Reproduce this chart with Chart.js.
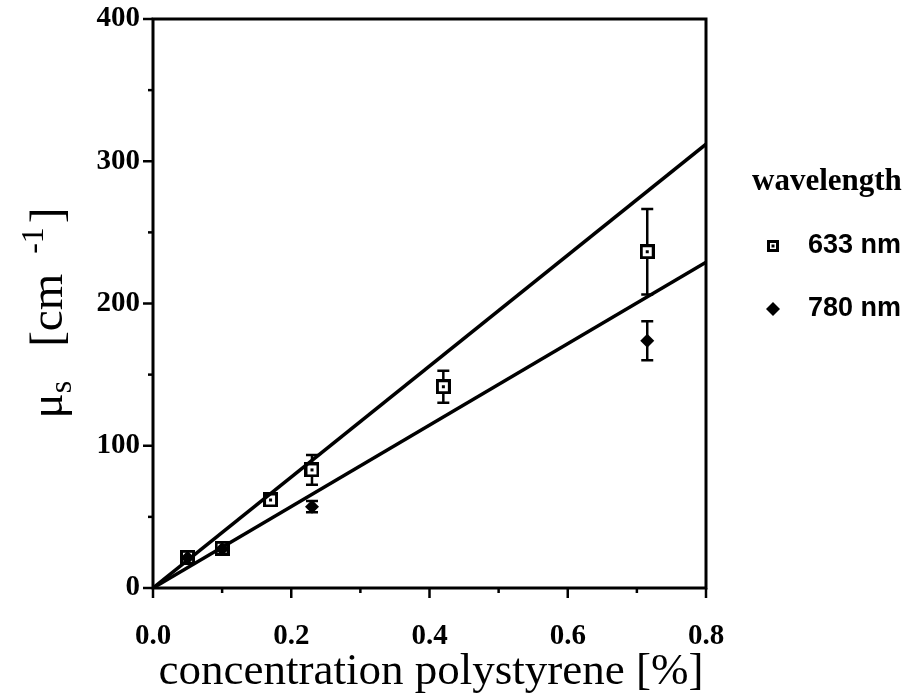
<!DOCTYPE html>
<html>
<head>
<meta charset="utf-8">
<script src="https://cdn.jsdelivr.net/npm/chart.js@4"></script>
<style>
  html, body { margin: 0; padding: 0; background: #fff; }
  #wrap { width: 912px; height: 697px; position: relative; }
</style>
</head>
<body>
<div id="wrap"><canvas id="graf" width="912" height="697"></canvas></div>
<script>
// ---------------------------
// DATA
// ---------------------------
const conc633 = [0.05, 0.10, 0.17, 0.23, 0.42, 0.715];
const mus633  = [21.6, 27.9, 61.9, 83.0, 141.5, 236.4];
const err633  = [0, 0, 0, 10.5, 11.2, 30];

const conc780 = [0.05, 0.10, 0.23, 0.715];
const mus780  = [21.2, 27.5, 57.2, 173.8];
const err780  = [0, 0, 4, 13.7];

// fitted lines through origin
const fitX   = [0, 0.8];
const fit633 = [0, 312];
const fit780 = [0, 229];

const xTicks = [0, 0.2, 0.4, 0.6, 0.8];
const yTicks = [0, 100, 200, 300, 400];
const legendLabels = ["633 nm", "780 nm"];

// ---------------------------
// open square with dot marker
// ---------------------------
function squareDot(side, lw) {
  const c = document.createElement("canvas");
  c.width = side; c.height = side;
  const g = c.getContext("2d");
  g.fillStyle = "#fff";
  g.fillRect(0, 0, side, side);
  g.strokeStyle = "#000";
  g.lineWidth = lw;
  g.strokeRect(lw / 2, lw / 2, side - lw, side - lw);
  g.fillStyle = "#000";
  g.fillRect(side / 2 - 1.5, side / 2 - 1.5, 3, 3);
  return c;
}
const marker633 = squareDot(15, 3);
const legend633 = squareDot(12, 3);

const pts = (xs, ys) => xs.map((x, i) => ({ x, y: ys[i] }));

// ---------------------------
// plugin: frame, ticks, error bars, titles, legend
// ---------------------------
const extras = {
  id: "extras",
  beforeDatasetsDraw(chart) {
    const { ctx, chartArea: a, scales: { x, y } } = chart;
    ctx.save();
    ctx.strokeStyle = "#000";
    ctx.lineWidth = 3;
    ctx.strokeRect(a.left, a.top, a.right - a.left, a.bottom - a.top);

    // ticks (outward): major + minor
    ctx.lineWidth = 2.5;
    for (let v = 0; v <= 400.01; v += 50) {
      const py = y.getPixelForValue(v);
      const len = v % 100 === 0 ? 10 : 5;
      ctx.beginPath(); ctx.moveTo(a.left - len, py); ctx.lineTo(a.left, py); ctx.stroke();
    }
    for (let k = 0; k <= 8; k++) {
      const px = x.getPixelForValue(k / 10);
      const len = k % 2 === 0 ? 10 : 5;
      ctx.beginPath(); ctx.moveTo(px, a.bottom); ctx.lineTo(px, a.bottom + len); ctx.stroke();
    }

    // error bars
    const bars = (xs, ys, es) => {
      xs.forEach((xv, i) => {
        if (!es[i]) return;
        const px = x.getPixelForValue(xv);
        const t = y.getPixelForValue(ys[i] + es[i]);
        const b = y.getPixelForValue(ys[i] - es[i]);
        ctx.beginPath();
        ctx.moveTo(px, t); ctx.lineTo(px, b);
        ctx.moveTo(px - 6, t); ctx.lineTo(px + 6, t);
        ctx.moveTo(px - 6, b); ctx.lineTo(px + 6, b);
        ctx.stroke();
      });
    };
    bars(conc633, mus633, err633);
    bars(conc780, mus780, err780);
    ctx.restore();
  },
  afterDraw(chart) {
    const { ctx } = chart;
    ctx.save();
    ctx.fillStyle = "#000";

    // x title
    ctx.font = "45px 'Liberation Serif'";
    ctx.textAlign = "center";
    ctx.textBaseline = "middle";
    ctx.fillText("concentration polystyrene [%]", 431, 672);

    // y title with sub/superscript (rotated)
    ctx.translate(62, 313);
    ctx.rotate(-Math.PI / 2);
    ctx.textAlign = "left";
    ctx.textBaseline = "alphabetic";
    // [text, size, baseline shift, gap after]
    const parts = [
      ["μ", 47, 0, 0], ["s", 32, 9, 34], ["[cm", 47, 0, 20], ["-1", 32, -19, 4], ["]", 47, 0, 0]
    ];
    let w = 0;
    parts.forEach(p => { ctx.font = p[1] + "px 'Liberation Serif'"; w += ctx.measureText(p[0]).width + p[3]; });
    let cx = -w / 2;
    parts.forEach(p => {
      ctx.font = p[1] + "px 'Liberation Serif'";
      ctx.fillText(p[0], cx, p[2]);
      cx += ctx.measureText(p[0]).width + p[3];
    });
    ctx.setTransform(1, 0, 0, 1, 0, 0);

    // legend
    ctx.font = "bold 31px 'Liberation Serif'";
    ctx.textAlign = "left";
    ctx.textBaseline = "middle";
    ctx.fillText("wavelength", 752, 182);
    ctx.font = "bold 27px 'Liberation Sans'";
    ctx.fillText(legendLabels[0], 808, 246);
    ctx.fillText(legendLabels[1], 808, 309);
    ctx.drawImage(legend633, 767, 240);
    ctx.beginPath();
    ctx.moveTo(773, 302); ctx.lineTo(780, 309); ctx.lineTo(773, 316); ctx.lineTo(766, 309);
    ctx.closePath(); ctx.fill();
    ctx.restore();
  }
};

new Chart(document.getElementById("graf"), {
  type: "scatter",
  data: {
    datasets: [
      {
        type: "line", data: pts(fitX, fit633), borderColor: "#000", borderWidth: 3.5,
        pointRadius: 0, fill: false
      },
      {
        type: "line", data: pts(fitX, fit780), borderColor: "#000", borderWidth: 3.5,
        pointRadius: 0, fill: false
      },
      {
        label: legendLabels[1], data: pts(conc780, mus780), pointStyle: "rectRot",
        pointRadius: 7, backgroundColor: "#000", borderColor: "#000", borderWidth: 0
      },
      {
        label: legendLabels[0], data: pts(conc633, mus633), pointStyle: marker633,
        backgroundColor: "#000", borderColor: "#000"
      }
    ]
  },
  plugins: [extras],
  options: {
    responsive: false,
    animation: false,
    devicePixelRatio: 1,
    layout: { padding: { top: 19, right: 206, left: 0, bottom: 0 } },
    plugins: { legend: { display: false }, tooltip: { enabled: false } },
    scales: {
      x: {
        type: "linear", min: 0, max: 0.8,
        grid: { display: false },
        border: { display: false },
        afterBuildTicks: s => { s.ticks = xTicks.map(v => ({ value: v })); },
        afterFit: s => { s.height = 109; s.paddingLeft = 0; s.paddingRight = 0; },
        ticks: {
          color: "#000", padding: 23, maxRotation: 0,
          font: { family: "'Liberation Serif'", size: 29, weight: "bold" },
          callback: v => v.toFixed(1)
        }
      },
      y: {
        type: "linear", min: 0, max: 400,
        grid: { display: false },
        border: { display: false },
        afterBuildTicks: s => { s.ticks = yTicks.map(v => ({ value: v })); },
        afterFit: s => { s.width = 153; s.paddingTop = 0; s.paddingBottom = 0; },
        ticks: {
          color: "#000", padding: 5,
          font: { family: "'Liberation Serif'", size: 29, weight: "bold" }
        }
      }
    }
  }
});
</script>
</body>
</html>
